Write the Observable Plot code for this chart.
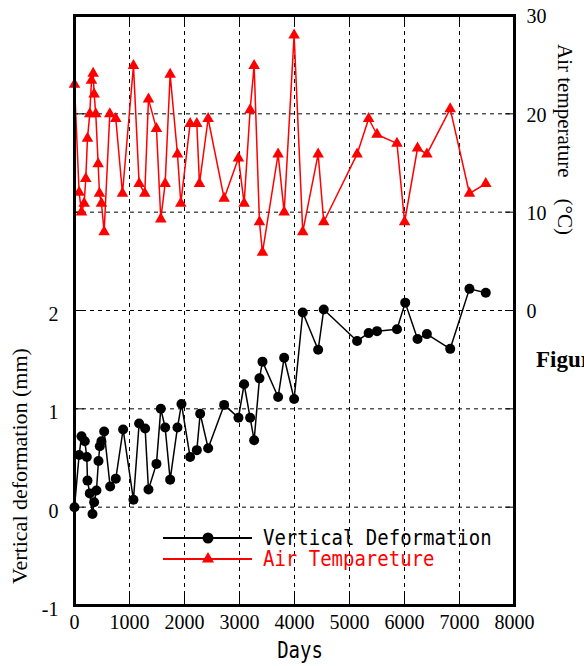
<!DOCTYPE html>
<html>
<head>
<meta charset="utf-8">
<script src="https://cdn.jsdelivr.net/npm/d3@7"></script>
<script src="https://cdn.jsdelivr.net/npm/@observablehq/plot@0.6"></script>
<style>
  html, body { margin: 0; padding: 0; background: #fff; }
  #chart { width: 584px; height: 666px; overflow: hidden; }
</style>
</head>
<body>
<div id="chart"></div>
<script>
// ---- Data ----
const defDays = [0, 84, 127, 187, 224, 236, 278, 327, 357, 399, 436, 460, 490, 539, 648, 751, 884, 1072, 1175, 1284, 1345, 1490, 1569, 1648, 1739, 1872, 1945, 2102, 2224, 2285, 2430, 2721, 2981, 3084, 3193, 3266, 3363, 3418, 3702, 3812, 3993, 4150, 4430, 4532, 5138, 5348, 5500, 5863, 6013, 6237, 6407, 6831, 7181, 7478];
const defValues = [0, 0.53, 0.72, 0.67, 0.51, 0.27, 0.14, -0.07, 0.05, 0.17, 0.47, 0.62, 0.67, 0.77, 0.21, 0.29, 0.79, 0.075, 0.85, 0.80, 0.18, 0.44, 1.0, 0.81, 0.28, 0.81, 1.05, 0.51, 0.58, 0.95, 0.60, 1.04, 0.91, 1.25, 0.91, 0.68, 1.31, 1.48, 1.12, 1.52, 1.10, 1.98, 1.60, 2.01, 1.69, 1.77, 1.79, 1.81, 2.08, 1.71, 1.76, 1.61, 2.22, 2.18];

const tempDays = [0, 84, 127, 175, 205, 236, 278, 309, 339, 357, 387, 430, 454, 490, 539, 642, 751, 872, 1072, 1175, 1278, 1345, 1490, 1569, 1648, 1739, 1872, 1933, 2102, 2224, 2272, 2430, 2721, 2981, 3084, 3193, 3266, 3363, 3418, 3702, 3812, 3993, 4150, 4430, 4532, 5138, 5348, 5500, 5863, 6002, 6237, 6407, 6831, 7181, 7478];
const tempValues = [23, 12, 10, 10.9, 13.4, 17.5, 20, 23.4, 24.1, 22, 20, 14.9, 11.9, 10.9, 8, 20, 19.5, 11.9, 24.9, 12.9, 11.9, 21.5, 18.5, 9.3, 12.9, 24, 15.9, 10.9, 19, 19, 12.9, 19.5, 11.4, 15.5, 10.9, 20.4, 24.9, 9, 5.9, 15.9, 10, 28, 8, 15.9, 9, 15.9, 19.5, 17.9, 17, 9, 16.5, 15.9, 20.5, 11.9, 12.9];

const xTicks = [0, 1000, 2000, 3000, 4000, 5000, 6000, 7000, 8000];
const xGrid = [1000, 2000, 3000, 4000, 5000, 6000, 7000];
const leftTicks = [-1, 0, 1, 2];
const yGrid = [0, 1, 2, 3, 4];
const rightTickLabels = [0, 10, 20, 30];
const legendLabels = ["Vertical Deformation", "Air Tempareture"];
const xTitle = "Days";
const leftTitle = "Vertical deformation (mm)";
const rightTitle = "Air temperature\u3000(\u00B0C)";

// temperature axis: 0 °C aligns with 2 mm, 10 °C per 1 mm
const tempToLeft = t => 2 + t / 10;
const rightTicks = rightTickLabels.map(tempToLeft);

const deform = defDays.map((d, i) => ({day: d, v: defValues[i]}));
const temp = tempDays.map((d, i) => ({day: d, t: tempValues[i], y: tempToLeft(tempValues[i])}));

const serif = "'Liberation Serif', 'Times New Roman', serif";
const mono = "'DejaVu Sans Mono', 'Liberation Mono', monospace";
const dash = {stroke: "black", strokeOpacity: 1, strokeWidth: 1, strokeDasharray: "4,4"};

const chart = Plot.plot({
  width: 584,
  height: 666,
  marginLeft: 74,
  marginRight: 70,
  marginTop: 15,
  marginBottom: 61,
  style: {fontFamily: serif, fontSize: "20px", color: "black", background: "white"},
  x: {domain: [0, 8000]},
  y: {domain: [-1, 5]},
  marks: [
    Plot.gridX(xGrid, dash),
    Plot.gridY(yGrid, dash),
    // inward ticks
    Plot.axisX(xGrid, {anchor: "bottom", tickSize: -10, tickFormat: () => "", label: null, strokeWidth: 1}),
    Plot.axisX(xGrid, {anchor: "top", tickSize: -10, tickFormat: () => "", label: null, strokeWidth: 1}),
    Plot.axisY(yGrid, {anchor: "left", tickSize: -10, tickFormat: () => "", label: null, strokeWidth: 1}),
    Plot.axisY(yGrid, {anchor: "right", tickSize: -10, tickFormat: () => "", label: null, strokeWidth: 1}),
    // tick labels
    Plot.axisX(xTicks, {anchor: "bottom", tickSize: 0, tickPadding: 9, label: null, tickFormat: d => String(d), fontSize: 20}),
    Plot.axisY(leftTicks, {anchor: "left", tickSize: 0, tickPadding: 16, label: null, tickFormat: d => String(d), dy: 4, fontSize: 20}),
    Plot.axisY(rightTicks, {anchor: "right", tickSize: 0, tickPadding: 12, label: null,
      tickFormat: d => String(rightTickLabels[rightTicks.indexOf(d)]), dy: 1.5, fontSize: 20}),
    // series
    Plot.line(temp, {x: "day", y: "y", stroke: "#ff0000", strokeWidth: 1.5}),
    Plot.dot(temp, {x: "day", y: "y", symbol: "triangle", fill: "#ff0000", stroke: "none", r: 4.3}),
    Plot.line(deform, {x: "day", y: "v", stroke: "black", strokeWidth: 1.5}),
    Plot.dot(deform, {x: "day", y: "v", fill: "black", stroke: "none", r: 5}),
    Plot.frame({stroke: "black", strokeWidth: 3})
  ]
});

document.getElementById("chart").appendChild(chart);

// ---- titles and legend ----
const svg = d3.select(chart);
const ann = svg.append("g");

ann.append("text")
  .attr("transform", "translate(27,466) rotate(-90)")
  .attr("text-anchor", "middle")
  .style("font-family", serif).style("font-size", "22px")
  .attr("fill", "black")
  .text(leftTitle);

ann.append("text")
  .attr("transform", "translate(558,44) rotate(90)")
  .attr("text-anchor", "start")
  .style("font-family", serif).style("font-size", "21px")
  .attr("fill", "black")
  .text(rightTitle);

ann.append("text")
  .attr("transform", "translate(300,658) scale(1,1.18)")
  .attr("text-anchor", "middle")
  .style("font-family", mono).style("font-size", "19px")
  .attr("fill", "black")
  .text(xTitle);

ann.append("text")
  .attr("x", 536).attr("y", 367)
  .attr("text-anchor", "start")
  .style("font-family", serif).style("font-size", "23px").style("font-weight", "bold")
  .attr("fill", "black")
  .text("Figure");

const legend = ann.append("g");
const legendColors = ["black", "#ff0000"];
const legendYs = [538, 559];
const triSize = Math.PI * 4.5 * 4.5;
legendLabels.forEach((lab, i) => {
  const g = legend.append("g");
  g.append("line").attr("x1", 163).attr("x2", 252).attr("y1", legendYs[i]).attr("y2", legendYs[i])
    .attr("stroke", legendColors[i]).attr("stroke-width", 2);
  if (i === 0) {
    g.append("circle").attr("cx", 208).attr("cy", legendYs[i]).attr("r", 5.5).attr("fill", "black");
  } else {
    g.append("path").attr("transform", `translate(208,${legendYs[i]})`)
      .attr("d", d3.symbol(d3.symbolTriangle, triSize)()).attr("fill", "#ff0000");
  }
  g.append("text")
    .attr("transform", `translate(263,${legendYs[i] + 7}) scale(1,1.12)`)
    .attr("text-anchor", "start")
    .style("font-family", mono).style("font-size", "19px")
    .attr("fill", legendColors[i])
    .text(lab);
});
</script>
</body>
</html>
